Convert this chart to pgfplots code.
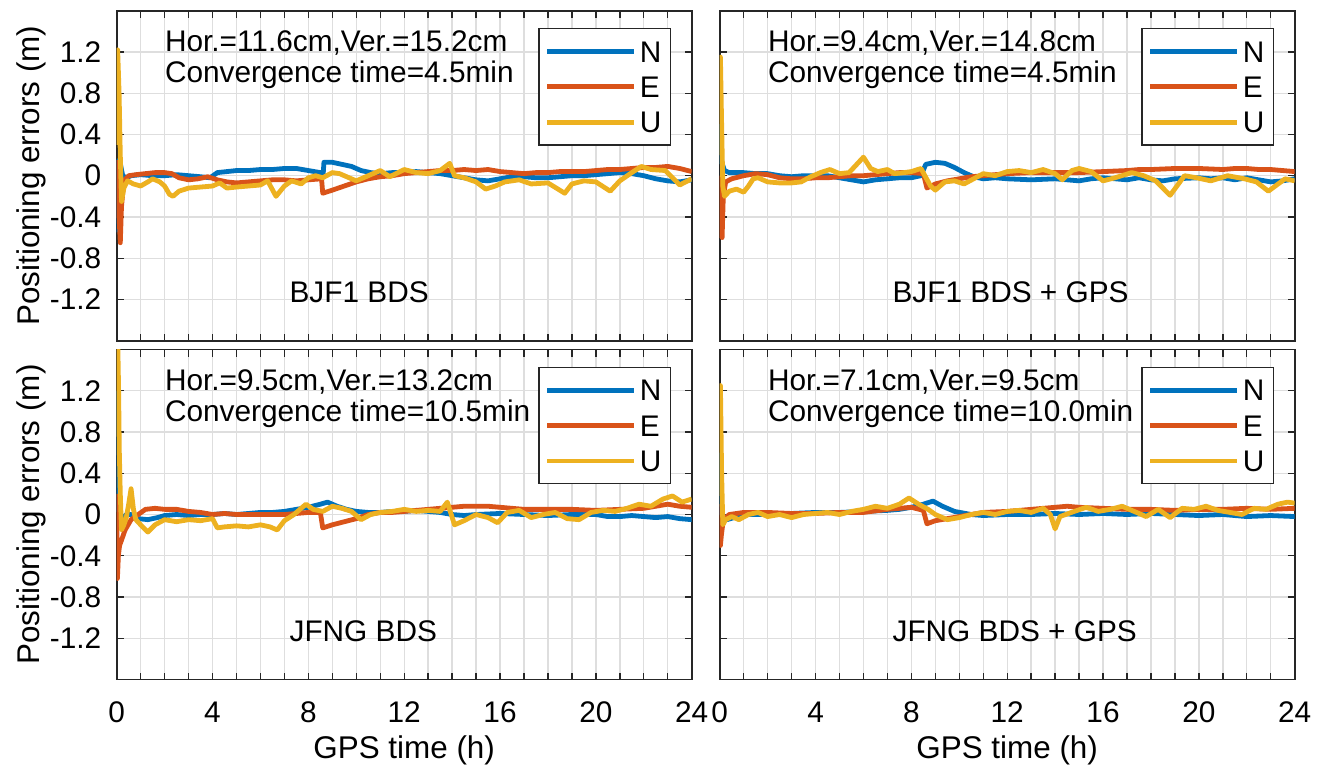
\documentclass[border=0pt]{standalone}
\usepackage{fontspec}
\setmainfont{Liberation Sans}
\usepackage{pgfplots}
\pgfplotsset{compat=1.18}
\definecolor{cN}{rgb}{0,0.447,0.741}
\definecolor{cE}{rgb}{0.850,0.325,0.098}
\definecolor{cU}{rgb}{0.929,0.694,0.125}
\definecolor{gridc}{gray}{0.87}
\definecolor{axc}{gray}{0.15}
\pgfplotsset{panel/.style={
  scale only axis, width=287.5pt, height=165pt,
  xmin=0, xmax=24, ymin=-1.6, ymax=1.6,
  xtick={0,4,...,24}, minor x tick num=3,
  ytick={-1.2,-0.8,-0.4,0,0.4,0.8,1.2},
  yticklabels={-1.2,-0.8,-0.4,0,0.4,0.8,1.2},
  xticklabels={0,4,8,12,16,20,24},
  xmajorgrids, xminorgrids, ymajorgrids,
  grid style={gridc, line width=0.7pt},
  minor grid style={gridc, line width=0.7pt},
  axis line style={axc, line width=0.9pt},
  tick style={axc, line width=0.7pt},
  major tick length=3.5pt, minor tick length=3.5pt,
  tick align=inside,
  font=\fontsize{14.9}{17}\selectfont,
  label style={font=\fontsize{15.7}{18}\selectfont},
  xticklabel style={anchor=center, inner sep=0pt, yshift=-16.5pt},
  yticklabel style={anchor=east, inner sep=0pt, xshift=-7.5pt},
  every axis plot/.append style={line width=2.4pt, line join=round},
  legend style={at={(1,1)}, anchor=north east, xshift=-10.35pt, yshift=-8.65pt,
    draw=axc, line width=0.7pt, fill=white, inner xsep=3pt, inner ysep=2.5pt,
    row sep=0pt, nodes={inner ysep=3pt, inner xsep=1.5pt, text height=11.2pt, text depth=0.5pt},
    font=\fontsize{14.9}{17}\selectfont},
  legend cell align=left,
  legend image code/.code={\draw[#1, line width=2.4pt] (0pt,0pt) -- (43.5pt,0pt);},
}}
\newcommand{\annot}[2]{\node[anchor=west, inner sep=0pt, align=left, font=\fontsize{14.9}{15.5}\selectfont] at (axis cs:2,1.125) {#1};
  \node[anchor=west, inner sep=0pt] at (axis cs:7.2,-1.13) {#2};}
\begin{document}
\begin{tikzpicture}
\useasboundingbox (0,0) rectangle (661pt,-385.5pt);
% ---------------- top left
\begin{axis}[panel, at={(58.35pt,-170.35pt)}, anchor=south west, xticklabels={},
  ylabel={Positioning errors (m)},
  ylabel style={at={(axis description cs:0,0.5)}, anchor=center, yshift=42.85pt}]
\addplot[cN] coordinates {(0,-0.55)(0.04,-0.3)(0.08,0.15)(0.15,0.12)(0.25,0.0)(0.4,-0.02)(0.6,0.0)(1,0.01)(1.5,0.0)(2,0.0)(2.5,0.01)(3,0.0)(3.5,-0.01)(3.9,-0.02)(4.2,0.03)(4.6,0.04)(5,0.05)(5.5,0.05)(6,0.06)(6.5,0.06)(7,0.07)(7.5,0.07)(8,0.05)(8.5,0.03)(8.62,0.02)(8.65,0.13)(9,0.13)(9.4,0.11)(9.8,0.09)(10.2,0.05)(10.6,0.03)(11,0.02)(11.5,0.03)(12,0.03)(12.5,0.04)(13,0.03)(13.5,0.02)(14,0.0)(14.5,-0.02)(15,-0.04)(15.5,-0.05)(16,-0.03)(16.5,-0.01)(17,-0.01)(17.5,-0.02)(18,-0.02)(18.5,-0.01)(19,0.0)(19.5,0.0)(20,0.01)(20.5,0.02)(21,0.03)(21.5,0.02)(22,0.0)(22.5,-0.03)(23,-0.05)(23.5,-0.06)(24,-0.04)};
\addplot[cE] coordinates {(0,0.15)(0.05,0.0)(0.1,-0.4)(0.15,-0.65)(0.2,-0.3)(0.3,-0.05)(0.5,0.0)(0.8,0.01)(1.2,0.02)(1.6,0.03)(2,0.03)(2.3,0.02)(2.6,-0.02)(3,-0.04)(3.4,-0.03)(3.8,-0.01)(4.2,-0.04)(4.6,-0.06)(5,-0.07)(5.5,-0.06)(6,-0.05)(6.5,-0.04)(7,-0.04)(7.5,-0.05)(8,-0.04)(8.55,-0.03)(8.6,-0.17)(9,-0.14)(9.5,-0.1)(10,-0.06)(10.5,-0.03)(11,-0.01)(11.5,0.0)(12,0.02)(12.5,0.03)(13,0.04)(13.5,0.05)(14,0.05)(14.5,0.06)(15,0.05)(15.5,0.06)(16,0.04)(16.5,0.03)(17,0.02)(17.5,0.03)(18,0.03)(18.5,0.04)(19,0.04)(19.5,0.04)(20,0.05)(20.5,0.06)(21,0.06)(21.5,0.07)(22,0.08)(22.5,0.08)(23,0.09)(23.5,0.07)(24,0.04)};
\addplot[cU] coordinates {(0,0.3)(0.04,1.22)(0.1,0.8)(0.15,0.2)(0.2,-0.25)(0.3,-0.12)(0.45,-0.05)(0.7,-0.08)(1,-0.1)(1.3,-0.06)(1.5,-0.03)(1.8,-0.06)(2,-0.1)(2.2,-0.18)(2.35,-0.2)(2.6,-0.15)(3,-0.12)(3.5,-0.11)(4,-0.1)(4.3,-0.07)(4.6,-0.12)(5,-0.11)(5.5,-0.1)(6,-0.09)(6.3,-0.05)(6.65,-0.2)(7,-0.1)(7.3,-0.05)(7.7,-0.08)(8,-0.02)(8.3,0.0)(8.6,-0.02)(9,0.03)(9.3,0.02)(9.7,-0.02)(10,-0.05)(10.5,0.0)(11,0.05)(11.4,-0.01)(12,0.06)(12.5,0.03)(13,0.02)(13.5,0.05)(13.9,0.12)(14.1,0.0)(14.5,-0.02)(15,-0.06)(15.4,-0.13)(15.8,-0.1)(16.2,-0.06)(16.8,-0.04)(17.3,-0.08)(18,-0.07)(18.7,-0.17)(19,-0.08)(19.5,-0.05)(20,-0.06)(20.6,-0.15)(21,-0.05)(21.5,0.03)(21.9,0.09)(22.3,0.06)(22.9,0.05)(23.5,-0.09)(24,-0.03)};
\legend{N,E,U}
\annot{Hor.=11.6cm,Ver.=15.2cm\\Convergence time=4.5min}{BJF1 BDS}
\end{axis}
% ---------------- top right
\begin{axis}[panel, at={(359.85pt,-170.35pt)}, anchor=south west, xticklabels={}, yticklabels={}]
\addplot[cN] coordinates {(0,0.5)(0.05,0.2)(0.1,0.12)(0.2,0.05)(0.4,0.03)(1,0.03)(1.5,0.02)(2,0.02)(2.5,0.0)(3,-0.01)(3.5,0.0)(4,0.0)(4.5,0.0)(5,-0.02)(5.5,-0.04)(6,-0.06)(6.5,-0.04)(7,-0.03)(7.5,-0.02)(8,-0.02)(8.4,0.0)(8.6,0.11)(9,0.13)(9.4,0.12)(9.8,0.08)(10.2,0.03)(10.6,-0.01)(11,-0.03)(11.5,-0.02)(12,-0.03)(13,-0.04)(14,-0.03)(15,-0.05)(15.5,-0.03)(16,-0.02)(16.5,-0.03)(17,-0.04)(17.5,-0.02)(18,-0.04)(18.5,-0.05)(19,-0.03)(20,-0.02)(20.5,-0.03)(21,-0.02)(21.5,-0.04)(22,-0.02)(22.5,-0.04)(23,-0.06)(23.5,-0.05)(24,-0.03)};
\addplot[cE] coordinates {(0,0.0)(0.05,-0.3)(0.1,-0.6)(0.15,-0.2)(0.25,-0.06)(0.5,-0.03)(1,0.0)(1.5,0.02)(2,0.01)(2.5,-0.02)(3,-0.03)(3.5,-0.03)(4,-0.02)(4.5,-0.02)(5,-0.01)(5.5,0.0)(6,0.0)(6.5,0.01)(7,0.02)(7.5,0.03)(8,0.03)(8.5,0.02)(8.65,-0.12)(9,-0.08)(9.5,-0.05)(10,-0.03)(10.5,-0.01)(11,0.0)(11.5,0.01)(12,0.02)(13,0.03)(14,0.03)(15,0.03)(16,0.04)(17,0.05)(17.5,0.06)(18,0.06)(19,0.07)(19.5,0.07)(20,0.07)(21,0.06)(21.5,0.07)(22,0.07)(22.5,0.06)(23,0.06)(23.5,0.05)(24,0.04)};
\addplot[cU] coordinates {(0,0.2)(0.03,1.15)(0.08,0.5)(0.13,-0.1)(0.2,-0.2)(0.4,-0.15)(0.7,-0.13)(1,-0.16)(1.2,-0.1)(1.4,-0.03)(1.6,-0.02)(2,-0.06)(2.5,-0.07)(3,-0.07)(3.4,-0.06)(3.8,-0.01)(4.2,0.03)(4.6,0.06)(5,0.02)(5.4,0.03)(5.8,0.13)(6,0.18)(6.3,0.07)(6.6,0.04)(7,0.06)(7.3,0.02)(7.7,0.03)(8,0.04)(8.4,0.07)(8.8,-0.1)(9,-0.14)(9.4,-0.06)(9.8,-0.05)(10.2,-0.08)(10.6,-0.03)(11,0.02)(11.5,0.0)(12,0.04)(12.5,0.05)(13,0.03)(13.5,0.06)(14,0.02)(14.3,-0.04)(14.7,0.05)(15,0.07)(15.5,0.04)(16,-0.05)(16.5,-0.02)(17.2,0.03)(17.7,0.0)(18.2,-0.05)(18.8,-0.19)(19.4,0.0)(19.9,-0.02)(20.5,-0.05)(21.2,0.0)(21.9,-0.03)(22.4,-0.06)(22.9,-0.15)(23.6,-0.03)(24,-0.05)};
\legend{N,E,U}
\annot{Hor.=9.4cm,Ver.=14.8cm\\Convergence time=4.5min}{BJF1 BDS + GPS}
\end{axis}
% ---------------- bottom left
\begin{axis}[panel, at={(58.35pt,-339.75pt)}, anchor=south west,
  ylabel={Positioning errors (m)},
  ylabel style={at={(axis description cs:0,0.5)}, anchor=center, yshift=42.85pt},
  xlabel={GPS time (h)},
  xlabel style={at={(axis description cs:0.5,0)}, anchor=center, yshift=-35.25pt}]
\addplot[cN] coordinates {(0,1.2)(0.03,0.5)(0.08,0.05)(0.2,-0.05)(0.4,0.0)(0.6,0.0)(0.9,-0.04)(1.3,-0.05)(1.7,-0.03)(2,-0.01)(2.5,0.0)(3,-0.01)(3.5,0.0)(4,0.0)(4.5,0.01)(5,0.0)(5.5,0.01)(6,0.02)(6.5,0.02)(7,0.03)(7.5,0.05)(8,0.07)(8.5,0.1)(8.8,0.12)(9.2,0.08)(9.6,0.05)(10,0.03)(10.5,0.02)(11,0.02)(11.5,0.03)(12,0.03)(12.5,0.04)(13,0.03)(13.5,0.02)(14,0.0)(14.5,-0.01)(15,0.0)(16,0.01)(17,0.0)(18,-0.01)(19,0.0)(20,0.0)(20.5,-0.02)(21,-0.02)(21.5,-0.01)(22,-0.02)(22.5,-0.03)(23,-0.02)(23.5,-0.04)(24,-0.05)};
\addplot[cE] coordinates {(0,0.2)(0.03,-0.62)(0.07,-0.4)(0.12,-0.3)(0.2,-0.25)(0.35,-0.15)(0.6,-0.05)(0.9,0.0)(1.2,0.05)(1.6,0.06)(2,0.05)(2.5,0.05)(3,0.03)(3.5,0.02)(4,0.0)(4.5,0.01)(5,0.0)(5.5,0.0)(6,0.0)(6.5,0.0)(7,0.0)(7.5,0.01)(8,0.02)(8.5,0.02)(8.6,-0.13)(9,-0.1)(9.5,-0.07)(10,-0.04)(10.5,0.0)(11,0.02)(11.5,0.02)(12,0.03)(12.5,0.04)(13,0.05)(13.5,0.06)(14,0.07)(14.5,0.08)(15,0.08)(15.5,0.08)(16,0.07)(16.5,0.06)(17,0.05)(18,0.05)(19,0.05)(20,0.04)(21,0.05)(22,0.06)(22.5,0.08)(23,0.1)(23.5,0.08)(24,0.07)};
\addplot[cU] coordinates {(0,1.7)(0.05,1.6)(0.08,1.2)(0.11,0.6)(0.15,0.2)(0.2,-0.15)(0.3,-0.1)(0.4,-0.03)(0.5,0.1)(0.6,0.25)(0.7,0.05)(0.8,-0.05)(1,-0.1)(1.3,-0.17)(1.6,-0.1)(2,-0.05)(2.5,-0.07)(3,-0.05)(3.5,-0.06)(4,-0.04)(4.2,-0.13)(4.5,-0.12)(5,-0.11)(5.5,-0.12)(6,-0.1)(6.4,-0.12)(6.7,-0.15)(7,-0.06)(7.4,0.0)(7.9,0.1)(8.2,0.05)(8.6,0.03)(9,0.08)(9.4,0.06)(9.8,0.03)(10.2,-0.05)(10.6,0.0)(11,0.02)(11.5,0.03)(12,0.05)(12.5,0.03)(13,0.04)(13.5,0.03)(13.8,0.12)(14.1,-0.1)(14.5,-0.06)(15,0.0)(15.5,-0.03)(15.9,-0.08)(16.3,0.02)(16.8,0.04)(17.3,-0.03)(17.8,0.0)(18.3,0.02)(18.8,-0.04)(19.3,-0.05)(19.8,0.02)(20.3,0.04)(20.8,0.03)(21.3,0.06)(21.8,0.1)(22.3,0.08)(22.8,0.15)(23.2,0.18)(23.6,0.12)(24,0.15)};
\legend{N,E,U}
\annot{Hor.=9.5cm,Ver.=13.2cm\\Convergence time=10.5min}{JFNG BDS}
\end{axis}
% ---------------- bottom right
\begin{axis}[panel, at={(359.85pt,-339.75pt)}, anchor=south west, yticklabels={},
  xlabel={GPS time (h)},
  xlabel style={at={(axis description cs:0.5,0)}, anchor=center, yshift=-35.25pt}]
\addplot[cN] coordinates {(0,0.6)(0.05,0.2)(0.1,0.0)(0.3,-0.05)(0.6,-0.03)(1,0.0)(2,0.0)(3,0.01)(4,0.02)(5,0.02)(6,0.03)(7,0.04)(7.5,0.05)(8,0.07)(8.5,0.1)(8.9,0.13)(9.3,0.08)(9.8,0.03)(10.5,0.0)(11,-0.01)(12,0.0)(13,0.0)(14,0.01)(15,0.0)(16,0.01)(17,0.0)(18,0.01)(19,0.0)(20,-0.01)(21,0.0)(22,-0.02)(23,-0.01)(24,-0.02)};
\addplot[cE] coordinates {(0,0.1)(0.03,-0.3)(0.07,-0.2)(0.15,-0.05)(0.4,0.0)(1,0.02)(2,0.02)(3,0.01)(4,0.01)(5,0.02)(6,0.02)(7,0.05)(7.5,0.06)(8,0.07)(8.5,0.04)(8.65,-0.09)(9,-0.06)(9.5,-0.04)(10,-0.02)(10.5,0.0)(11,0.02)(12,0.03)(13,0.05)(14,0.07)(14.5,0.08)(15,0.07)(16,0.06)(17,0.05)(18,0.05)(19,0.04)(20,0.05)(21,0.05)(22,0.06)(23,0.05)(24,0.06)};
\addplot[cU] coordinates {(0,0.2)(0.03,1.25)(0.08,0.4)(0.13,-0.1)(0.25,-0.05)(0.5,-0.02)(0.8,-0.05)(1.2,0.0)(1.6,0.02)(2,-0.02)(2.5,0.0)(3,-0.03)(3.5,0.0)(4,0.01)(4.5,0.02)(5,0.0)(5.5,0.03)(6,0.05)(6.5,0.08)(7,0.06)(7.5,0.1)(7.9,0.16)(8.3,0.1)(8.7,0.05)(9,0.0)(9.5,-0.05)(10,-0.03)(10.5,0.0)(11,0.02)(11.5,0.0)(12,0.03)(12.5,0.04)(13,0.02)(13.5,0.06)(13.8,0.0)(14,-0.14)(14.2,-0.02)(14.8,0.03)(15.3,0.07)(15.8,0.03)(16.3,0.05)(16.8,0.08)(17.3,0.03)(17.8,-0.02)(18.3,0.05)(18.8,-0.03)(19.3,0.06)(19.8,0.05)(20.3,0.08)(20.8,0.04)(21.3,0.02)(21.8,0.0)(22.3,0.06)(22.8,0.05)(23.3,0.1)(23.7,0.12)(24,0.11)};
\legend{N,E,U}
\annot{Hor.=7.1cm,Ver.=9.5cm\\Convergence time=10.0min}{JFNG BDS + GPS}
\end{axis}
\end{tikzpicture}
\end{document}
